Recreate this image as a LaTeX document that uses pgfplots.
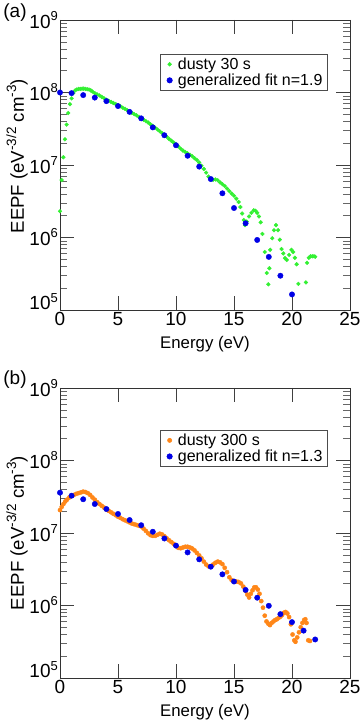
\documentclass[border=0pt]{standalone}
\usepackage{fontspec}
\setmainfont{Liberation Sans}
\usepackage{pgfplots}
\pgfplotsset{compat=1.18}
\definecolor{gdot}{RGB}{50,240,50}
\definecolor{bdot}{RGB}{0,0,230}
\definecolor{odot}{RGB}{255,135,25}
\newcommand{\lfont}{\fontsize{16bp}{17bp}\selectfont}
\newcommand{\ysup}[1]{\raisebox{0.42em}{\fontsize{13bp}{13bp}\selectfont #1}}
\newcommand{\lsup}[1]{\raisebox{0.42em}{\fontsize{13.5bp}{13.5bp}\selectfont #1}}
\pgfplotsset{
    legend image code/.code={\path (0bp,0bp) (12bp,0bp); \draw[#1] plot coordinates {(6bp,0bp)};},
}
\begin{document}
\begin{tikzpicture}
\path[use as bounding box] (0,0) rectangle (360bp,720bp);
\begin{axis}[at={(60bp,410bp)}, anchor=south west,
    scale only axis, width=290bp, height=290bp,
    xmin=0, xmax=25, ymode=log, ymin=1e5, ymax=1e9,
    xtick={0,5,10,15,20,25}, minor xtick={},
    ytick={1e5,1e6,1e7,1e8,1e9},
    yticklabels={\raisebox{0pt}[0pt][0pt]{10\ysup{5}},10\ysup{6},10\ysup{7},10\ysup{8},10\ysup{9}},
    minor ytick={2e5,3e5,4e5,5e5,6e5,7e5,8e5,9e5,2e6,3e6,4e6,5e6,6e6,7e6,8e6,9e6,2e7,3e7,4e7,5e7,6e7,7e7,8e7,9e7,2e8,3e8,4e8,5e8,6e8,7e8,8e8,9e8},
    tick align=inside,
    major tick length=14bp, minor tick length=7bp,
    axis line style={black!80, line width=0.8bp},
    major tick style={black!75, line width=0.7bp},
    minor tick style={black!60, line width=0.6bp},
    /pgf/number format/assume math mode=true,
    tick label style={font=\fontsize{19bp}{21bp}\selectfont},
    xticklabel style={inner sep=0pt, yshift=-2bp},
    yticklabel style={inner sep=0pt, xshift=-2bp},
    xlabel={Energy (eV)},
    ylabel={EEPF (eV\lsup{-3/2} cm\lsup{-3})},
    xlabel style={font=\fontsize{16.8bp}{19bp}\selectfont, at={(axis description cs:0.5,-0.117)}, anchor=center},
    ylabel style={font=\fontsize{18.6bp}{20bp}\selectfont, at={(axis description cs:-0.148,0.53)}, anchor=center},
    clip=false,
    legend cell align=left,
    legend style={at={(0.345,0.883)}, anchor=north west, draw=black!70, line width=0.6bp, font=\lfont, nodes={font=\lfont}, inner xsep=3bp, inner ysep=1.5bp, row sep=-1bp},
]
\addplot[only marks, mark=*, mark size=1.9bp, color=gdot] coordinates {
(0,2.3e6)(0.14,6.2e6)(0.29,1.28e7)(0.43,2.26e7)(0.57,3.6e7)(0.71,5.2e7)(0.86,6.9e7)(1.0,8.3e7)(1.15,9.8e7)(1.3,1.07e8)(1.45,1.1e8)(1.6,1.12e8)(1.75,1.12e8)(1.9,1.13e8)(2.05,1.13e8)(2.2,1.12e8)(2.35,1.11e8)(2.5,1.1e8)(2.65,1.07e8)(2.8,1.03e8)
(3.0,9.77e7)(3.2,9.44e7)(3.4,9.12e7)(3.6,8.71e7)(3.8,8.32e7)(4.0,7.94e7)(4.2,7.67e7)(4.4,7.41e7)(4.6,7.16e7)(4.8,6.92e7)
(5.0,6.68e7)(5.2,6.46e7)(5.4,6.17e7)(5.6,5.96e7)(5.8,5.69e7)(6.0,5.43e7)(6.2,5.25e7)(6.4,5.01e7)(6.6,4.84e7)(6.8,4.62e7)
(7.0,4.42e7)(7.2,4.22e7)(7.4,4.03e7)(7.6,3.85e7)(7.8,3.63e7)(8.0,3.47e7)(8.2,3.27e7)(8.4,3.09e7)(8.6,2.92e7)(8.8,2.75e7)
(9.0,2.60e7)(9.2,2.45e7)(9.4,2.29e7)(9.6,2.16e7)(9.8,2.04e7)(10.0,1.93e7)(10.2,1.80e7)(10.4,1.68e7)(10.6,1.58e7)(10.8,1.51e7)
(11.0,1.45e7)(11.2,1.38e7)(11.4,1.32e7)(11.6,1.24e7)(11.8,1.17e7)(12.0,1.08e7)(12.2,9.77e6)(12.4,8.81e6)(12.6,7.85e6)(12.8,6.92e6)
(13.0,6.31e6)(13.2,6.24e6)(13.4,6.31e6)(13.6,6.17e6)(13.8,5.75e6)(14.0,5.43e6)(14.2,5.13e6)(14.4,4.73e6)(14.6,4.37e6)(14.8,4.03e6)
(15.0,3.76e6)(15.2,3.43e6)(15.4,3.09e6)(15.55,2.63e6)(15.7,2.14e6)(15.85,1.74e6)(15.95,1.48e6)(16.1,1.66e6)(16.3,1.95e6)(16.5,2.19e6)
(16.7,2.37e6)(16.85,2.34e6)(17.0,2.19e6)(17.15,1.95e6)(17.3,1.62e6)(17.45,1.12e6)(17.65,6.31e5)(17.82,3.24e5)(17.96,2.26e5)(18.05,3.76e5)
(18.12,6.76e5)(18.3,9.77e5)(18.45,1.26e6)(18.62,1.48e6)(18.8,1.26e6)(18.95,9.33e5)(19.1,6.92e5)(19.25,6.03e5)(19.4,5.19e5)(19.55,4.90e5)
(19.75,5.75e5)(19.95,6.76e5)(20.1,6.31e5)(20.25,5.25e5)(20.4,4.27e5)(20.55,2.29e5)(21.2,2.40e5)(21.3,4.47e5)(21.45,5.25e5)(21.6,5.50e5)
(21.75,5.50e5)(21.9,5.50e5)(22.0,5.43e5)
};
\addlegendentry{dusty 30 s}
\addplot[only marks, mark=*, mark size=2.7bp, color=bdot] coordinates {
(0,1.0e8)(1,9.8e7)(2,9.2e7)(3,8.5e7)(4,7.6e7)(5,6.5e7)(6,5.4e7)(7,4.4e7)(8,3.3e7)(9,2.57e7)(10,1.87e7)
(11,1.34e7)(12,9.5e6)(13,6.4e6)(14,4.07e6)(15,2.55e6)(16,1.57e6)(17,9.25e5)(18,5.4e5)(19,2.97e5)(20,1.64e5)
};
\addlegendentry{generalized fit n=1.9}
\end{axis}
\begin{axis}[at={(60bp,42bp)}, anchor=south west,
    scale only axis, width=290bp, height=290bp,
    xmin=0, xmax=25, ymode=log, ymin=1e5, ymax=1e9,
    xtick={0,5,10,15,20,25}, minor xtick={},
    ytick={1e5,1e6,1e7,1e8,1e9},
    yticklabels={\raisebox{0pt}[0pt][0pt]{10\ysup{5}},10\ysup{6},10\ysup{7},10\ysup{8},10\ysup{9}},
    minor ytick={2e5,3e5,4e5,5e5,6e5,7e5,8e5,9e5,2e6,3e6,4e6,5e6,6e6,7e6,8e6,9e6,2e7,3e7,4e7,5e7,6e7,7e7,8e7,9e7,2e8,3e8,4e8,5e8,6e8,7e8,8e8,9e8},
    tick align=inside,
    major tick length=14bp, minor tick length=7bp,
    axis line style={black!80, line width=0.8bp},
    major tick style={black!75, line width=0.7bp},
    minor tick style={black!60, line width=0.6bp},
    /pgf/number format/assume math mode=true,
    tick label style={font=\fontsize{19bp}{21bp}\selectfont},
    xticklabel style={inner sep=0pt, yshift=-2bp},
    yticklabel style={inner sep=0pt, xshift=-2bp},
    xlabel={Energy (eV)},
    ylabel={EEPF (eV\lsup{-3/2} cm\lsup{-3})},
    xlabel style={font=\fontsize{16.8bp}{19bp}\selectfont, at={(axis description cs:0.5,-0.117)}, anchor=center},
    ylabel style={font=\fontsize{18.6bp}{20bp}\selectfont, at={(axis description cs:-0.148,0.5)}, anchor=center},
    clip=false,
    legend cell align=left,
    legend style={at={(0.345,0.855)}, anchor=north west, draw=black!70, line width=0.6bp, font=\lfont, nodes={font=\lfont}, inner xsep=3bp, inner ysep=1.5bp, row sep=-1bp},
]
\addplot[only marks, mark=*, mark size=2.1bp, color=odot] coordinates {
(0.0,2.07e7)(0.15,2.29e7)(0.3,2.51e7)(0.45,2.72e7)(0.6,2.88e7)(0.8,3.09e7)(1.0,3.24e7)(1.2,3.35e7)(1.4,3.47e7)(1.6,3.55e7)
(1.8,3.63e7)(2.0,3.72e7)(2.2,3.67e7)(2.4,3.55e7)(2.6,3.35e7)(2.8,3.09e7)(3.0,2.88e7)(3.2,2.66e7)(3.4,2.51e7)(3.6,2.37e7)
(3.8,2.24e7)(4.0,2.11e7)(4.2,2.02e7)(4.4,1.93e7)(4.6,1.84e7)(4.8,1.76e7)(5.0,1.68e7)(5.2,1.62e7)(5.4,1.55e7)(5.6,1.50e7)
(5.8,1.45e7)(6.0,1.40e7)(6.2,1.35e7)(6.4,1.32e7)(6.6,1.29e7)(6.8,1.26e7)(7.0,1.23e7)(7.2,1.15e7)(7.4,1.07e7)(7.6,9.89e6)
(7.8,9.33e6)(8.0,9.12e6)(8.2,9.12e6)(8.4,9.44e6)(8.6,9.77e6)(8.8,9.55e6)(9.0,9.02e6)(9.2,8.45e6)(9.4,7.94e6)(9.6,7.50e6)
(9.8,7.08e6)(10.0,6.61e6)(10.2,6.24e6)(10.4,6.17e6)(10.6,6.31e6)(10.8,6.46e6)(11.0,6.46e6)(11.2,6.31e6)(11.4,6.10e6)(11.6,5.75e6)
(11.8,5.31e6)(12.0,4.90e6)(12.2,4.47e6)(12.4,4.03e6)(12.6,3.67e6)(12.8,3.47e6)(13.0,3.47e6)(13.2,3.67e6)(13.4,3.89e6)(13.6,4.03e6)
(13.8,3.94e6)(14.0,3.72e6)(14.2,3.31e6)(14.4,2.88e6)(14.6,2.45e6)(14.8,2.24e6)(15.0,2.14e6)(15.2,2.14e6)(15.4,2.11e6)(15.6,2.02e6)
(15.8,1.82e6)(16.0,1.58e6)(16.15,1.41e6)(16.3,1.29e6)(16.45,1.45e6)(16.6,1.62e6)(16.75,1.78e6)(16.9,1.78e6)(17.05,1.66e6)(17.2,1.45e6)
(17.35,1.15e6)(17.5,9.33e5)(17.65,7.24e5)(17.8,6.03e5)(17.95,5.62e5)(18.1,5.37e5)(18.25,5.75e5)(18.4,6.03e5)(18.55,6.31e5)(18.7,6.46e5)
(18.85,6.76e5)(19.0,7.00e5)(19.15,7.41e5)(19.3,7.94e5)(19.45,8.13e5)(19.6,7.76e5)(19.75,6.92e5)(19.9,5.50e5)(20.05,3.98e5)(20.2,3.31e5)
(20.3,3.16e5)(20.45,3.63e5)(20.6,4.27e5)(20.75,5.01e5)(20.9,5.75e5)(21.05,6.31e5)(21.15,6.46e5)(21.25,5.75e5)(21.4,3.31e5)(21.55,3.24e5)
};
\addlegendentry{dusty 300 s}
\addplot[only marks, mark=*, mark size=2.7bp, color=bdot] coordinates {
(0,3.6e7)(1,3.27e7)(2,2.92e7)(3,2.51e7)(4,2.14e7)(5,1.83e7)(6,1.51e7)(7,1.28e7)(8,1.04e7)(9,8.4e6)(10,6.7e6)
(11,5.4e6)(12,4.33e6)(13,3.43e6)(14,2.69e6)(15,2.14e6)(16,1.64e6)(17,1.28e6)(18,9.9e5)(19,7.6e5)(20,5.9e5)(21,4.5e5)(22,3.4e5)
};
\addlegendentry{generalized fit n=1.3}
\end{axis}
\node[font=\fontsize{19bp}{21bp}\selectfont] at (15bp,707bp) {(a)};
\node[font=\fontsize{19bp}{21bp}\selectfont] at (15bp,340bp) {(b)};
\end{tikzpicture}
\end{document}
